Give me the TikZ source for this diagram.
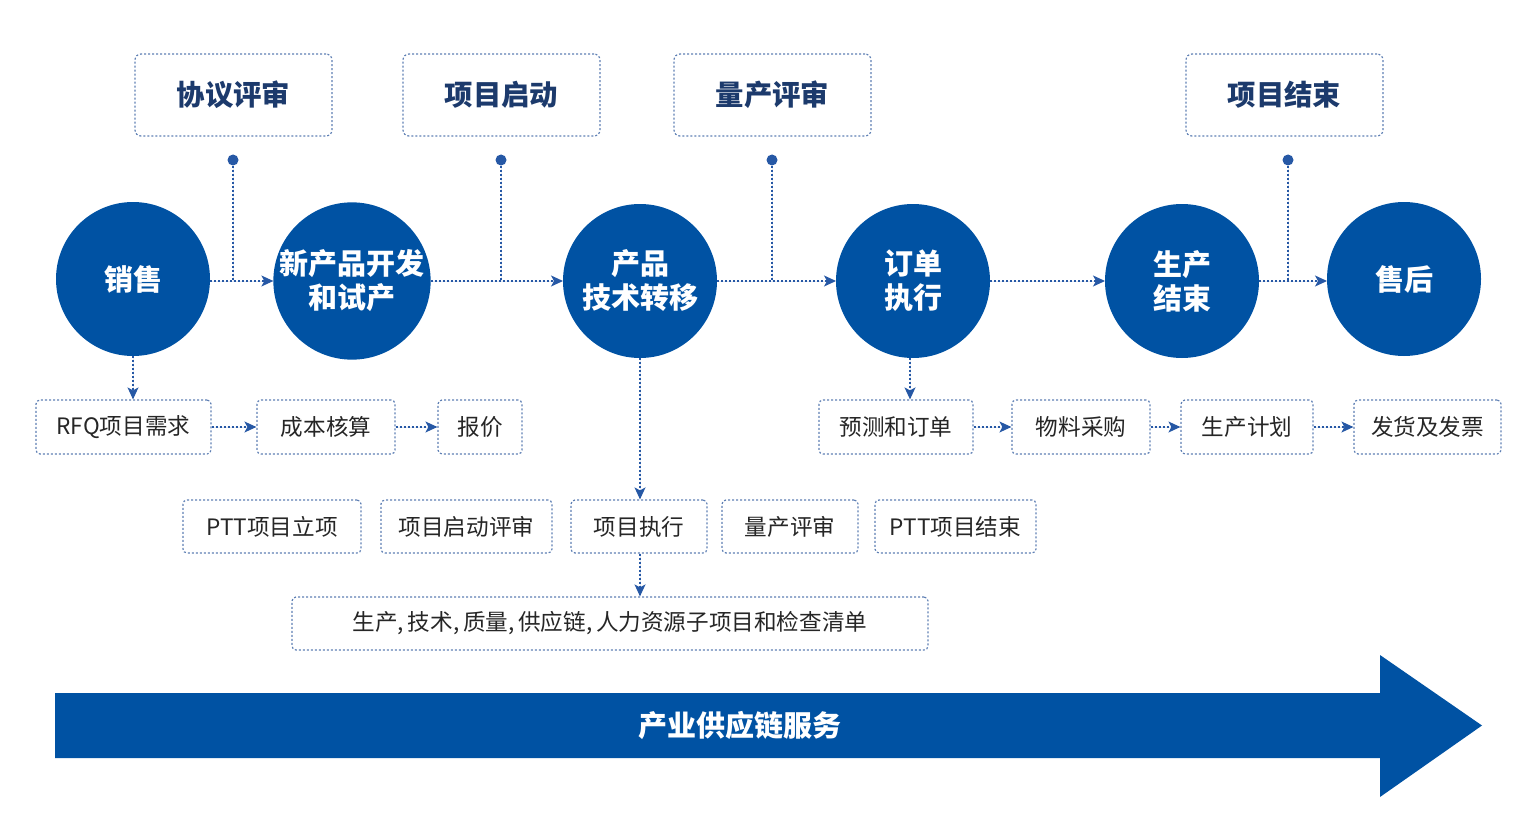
\documentclass[tikz,border=0pt]{standalone}
\usepackage{fontspec}
\setmainfont{Noto Sans CJK SC}
\usepackage{tikz}
\usetikzlibrary{positioning,calc,arrows.meta}

\definecolor{mainblue}{RGB}{0,82,163}
\definecolor{navy}{RGB}{28,58,108}
\definecolor{linkblue}{RGB}{38,88,165}
\definecolor{boxline}{RGB}{95,128,180}

\begin{document}
\begin{tikzpicture}[x=0.5pt,y=-0.5pt,>={Stealth[length=6pt,width=5.5pt,inset=1.5pt]},
                    stage/.style={circle,fill=mainblue,text=white,minimum size=77pt,inner sep=0pt,
                                  outer sep=0pt,font=\fontsize{14.5}{17}\selectfont\bfseries,align=center},
                    gate/.style={draw=boxline,dash pattern=on 1pt off 1pt,line width=0.6pt,rounded corners=3pt,
                                 minimum width=98.5pt,minimum height=41pt,text=navy,
                                 font=\fontsize{14.2}{16}\selectfont\bfseries},
                    task/.style={draw=boxline,dash pattern=on 1pt off 1pt,line width=0.6pt,rounded corners=2pt,
                                 minimum height=27pt,inner sep=0pt,text=black!85,
                                 font=\fontsize{11.3}{13}\selectfont},
                    flow/.style={->,draw=linkblue,fill=linkblue,line width=0.6pt,dash pattern=on 1pt off 1pt},
                    pin/.style={circle,fill=linkblue,minimum size=5.5pt,inner sep=0pt}
                   ]
  \useasboundingbox (0,0) rectangle (1537,840);

  % main stages
  \node[stage] (sales) at (133,279) {销售};
  \node[stage] (npd)   at (352,281) {新产品开发\\和试产};
  \node[stage] (ptt)   at (640,281) {产品\\技术转移};
  \node[stage] (order) at (913,281) {订单\\执行};
  \node[stage] (eop)   at (1182,281) {生产\\结束};
  \node[stage] (after) at (1404,279) {售后};

  % review gates on top
  \node[gate] (gate1) at (233.5,95)  {协议评审};
  \node[gate] (gate2) at (501.5,95)  {项目启动};
  \node[gate] (gate3) at (772.5,95)  {量产评审};
  \node[gate] (gate4) at (1284.5,95) {项目结束};

  \node[pin] (pin1) at (233,160) {};
  \node[pin] (pin2) at (501,160) {};
  \node[pin] (pin3) at (772,160) {};
  \node[pin] (pin4) at (1288,160) {};

  \coordinate (join1) at (pin1 |- npd);
  \coordinate (join2) at (pin2 |- npd);
  \coordinate (join3) at (pin3 |- npd);
  \coordinate (join4) at (pin4 |- npd);

  % sales tasks
  \node[task,minimum width=87.5pt] (rfq)   at (123.5,427) {RFQ项目需求};
  \node[task,minimum width=69pt]   (cost)  at (326,427)   {成本核算};
  \node[task,minimum width=42pt]   (quote) at (480,427)   {报价};

  % order tasks
  \node[task,minimum width=77pt]   (fcst)  at (896,427)    {预测和订单};
  \node[task,minimum width=69pt]   (buy)   at (1081,427)   {物料采购};
  \node[task,minimum width=66pt]   (plan)  at (1247,427)   {生产计划};
  \node[task,minimum width=73.5pt] (ship)  at (1427.5,427) {发货及发票};

  % transfer tasks
  \node[task,minimum width=89pt,minimum height=26.5pt]   (pttstart) at (272,526.5)   {PTT项目立项};
  \node[task,minimum width=85.5pt,minimum height=26.5pt] (kickoff)  at (466.5,526.5) {项目启动评审};
  \node[task,minimum width=68pt,minimum height=26.5pt]   (exec)     at (639,526.5)   {项目执行};
  \node[task,minimum width=68pt,minimum height=26.5pt]   (mpr)      at (790,526.5)   {量产评审};
  \node[task,minimum width=80.5pt,minimum height=26.5pt] (pttend)   at (955.5,526.5) {PTT项目结束};
  \node[task,minimum width=318pt,minimum height=26.5pt]  (check)    at (610,623.5)   {生产,\,技术,\,质量,\,供应链,\,人力资源子项目和检查清单};

  % connectors
  \draw[flow] (sales.east |- npd) -- (npd);
  \draw[flow] (npd) -- (ptt);
  \draw[flow] (ptt) -- (order);
  \draw[flow] (order) -- (eop);
  \draw[flow] (eop) -- (after.west |- eop);

  \draw[flow,-] (pin1) -- (join1);
  \draw[flow,-] (pin2) -- (join2);
  \draw[flow,-] (pin3) -- (join3);
  \draw[flow,-] (pin4) -- (join4);

  \draw[flow] (sales.south) -- (sales.south |- rfq.north);
  \draw[flow] (rfq) -- (cost);
  \draw[flow] (cost) -- (quote);

  \draw[flow] ($(order.south)+(-3,0)$) -- ($(order.south |- fcst.north)+(-3,0)$);
  \draw[flow] (fcst) -- (buy);
  \draw[flow] (buy) -- (plan);
  \draw[flow] (plan) -- (ship);

  \draw[flow] (ptt.south) -- (ptt.south |- exec.north);
  \draw[flow] (exec.south -| ptt.south) -- (ptt.south |- check.north);

  % service arrow
  \fill[mainblue] (55,693) -- (1380,693) -- (1380,655) -- (1482,725.5)
                  -- (1380,797) -- (1380,758) -- (55,758) -- cycle;
  \node[text=white,font=\fontsize{14.5}{17}\selectfont\bfseries] (supply) at (740,725.5) {产业供应链服务};
\end{tikzpicture}
\end{document}
